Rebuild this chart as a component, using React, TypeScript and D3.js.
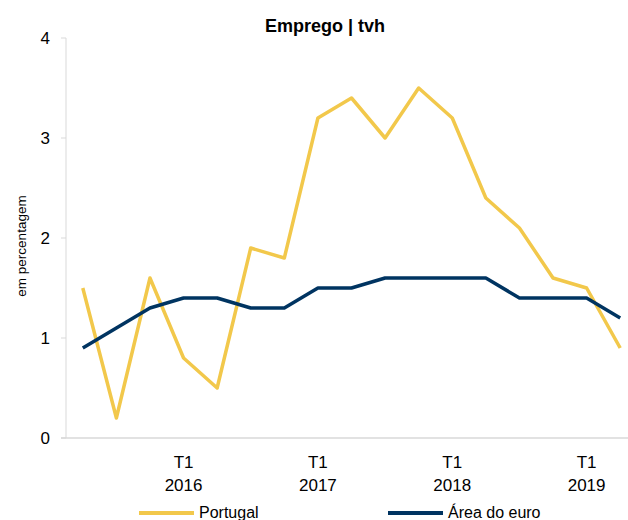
import React from "react";
import * as d3 from "d3";

const quarters = [
  "T2 2015", "T3 2015", "T4 2015",
  "T1 2016", "T2 2016", "T3 2016", "T4 2016",
  "T1 2017", "T2 2017", "T3 2017", "T4 2017",
  "T1 2018", "T2 2018", "T3 2018", "T4 2018",
  "T1 2019", "T2 2019",
];
const portugal = [1.5, 0.2, 1.6, 0.8, 0.5, 1.9, 1.8, 3.2, 3.4, 3.0, 3.5, 3.2, 2.4, 2.1, 1.6, 1.5, 0.9];
const euroArea = [0.9, 1.1, 1.3, 1.4, 1.4, 1.3, 1.3, 1.5, 1.5, 1.6, 1.6, 1.6, 1.6, 1.4, 1.4, 1.4, 1.2];
const yTicks = [0, 1, 2, 3, 4];
const xTickLabels = ["T1 2016", "T1 2017", "T1 2018", "T1 2019"];
const seriesNames = ["Portugal", "Área do euro"];

const W = 628;
const H = 520;
const FONT = "Arial, 'Liberation Sans', sans-serif";
const YELLOW = "#F2C84B";
const NAVY = "#003461";

export default function App() {
  const x = d3.scalePoint<string>().domain(quarters).range([66, 637]).padding(0.5);
  const y = d3.scaleLinear().domain([0, 4]).range([438, 38]);
  const line = d3
    .line<number>()
    .x((_, i) => x(quarters[i]) as number)
    .y((d) => y(d));

  const series = [
    { name: seriesNames[0], values: portugal, color: YELLOW },
    { name: seriesNames[1], values: euroArea, color: NAVY },
  ];

  return (
    <svg
      width={W}
      height={H}
      style={{ position: "absolute", left: 0, top: 0, background: "#fff" }}
      fontFamily={FONT}
    >
      <text x={325} y={32} textAnchor="middle" fontSize={18} fontWeight="bold" fill="#000">
        Emprego | tvh
      </text>
      <text
        transform={`translate(26,246) rotate(-90)`}
        textAnchor="middle"
        fontSize={13.5}
        fill="#000"
      >
        em percentagem
      </text>
      {/* y axis */}
      <line x1={66} x2={66} y1={y(4)} y2={y(0)} stroke="#d9d9d9" strokeWidth={1} />
      {yTicks.map((t) => (
        <g key={t}>
          <line x1={61} x2={66} y1={y(t)} y2={y(t)} stroke="#d9d9d9" />
          <text x={50} y={y(t) + 6} textAnchor="end" fontSize={17} fill="#000">
            {t}
          </text>
        </g>
      ))}
      {/* x axis */}
      <line x1={61} x2={628} y1={y(0)} y2={y(0)} stroke="#d9d9d9" strokeWidth={1.5} />
      {xTickLabels.map((lab) => {
        const [q, yr] = lab.split(" ");
        const cx = x(lab) as number;
        return (
          <g key={lab}>
            <text x={cx} y={468} textAnchor="middle" fontSize={17} fill="#000">
              {q}
            </text>
            <text x={cx} y={491} textAnchor="middle" fontSize={17} fill="#000">
              {yr}
            </text>
          </g>
        );
      })}
      {series.map((s) => (
        <path
          key={s.name}
          d={line(s.values) as string}
          fill="none"
          stroke={s.color}
          strokeWidth={3.5}
          strokeLinejoin="round"
        />
      ))}
      {/* legend */}
      {series.map((s, i) => {
        const lx = i === 0 ? 139 : 388;
        return (
          <g key={s.name}>
            <line x1={lx} x2={lx + 55} y1={513} y2={513} stroke={s.color} strokeWidth={4} />
            <text x={lx + 60} y={518} fontSize={16} fill="#000">
              {s.name}
            </text>
          </g>
        );
      })}
    </svg>
  );
}
